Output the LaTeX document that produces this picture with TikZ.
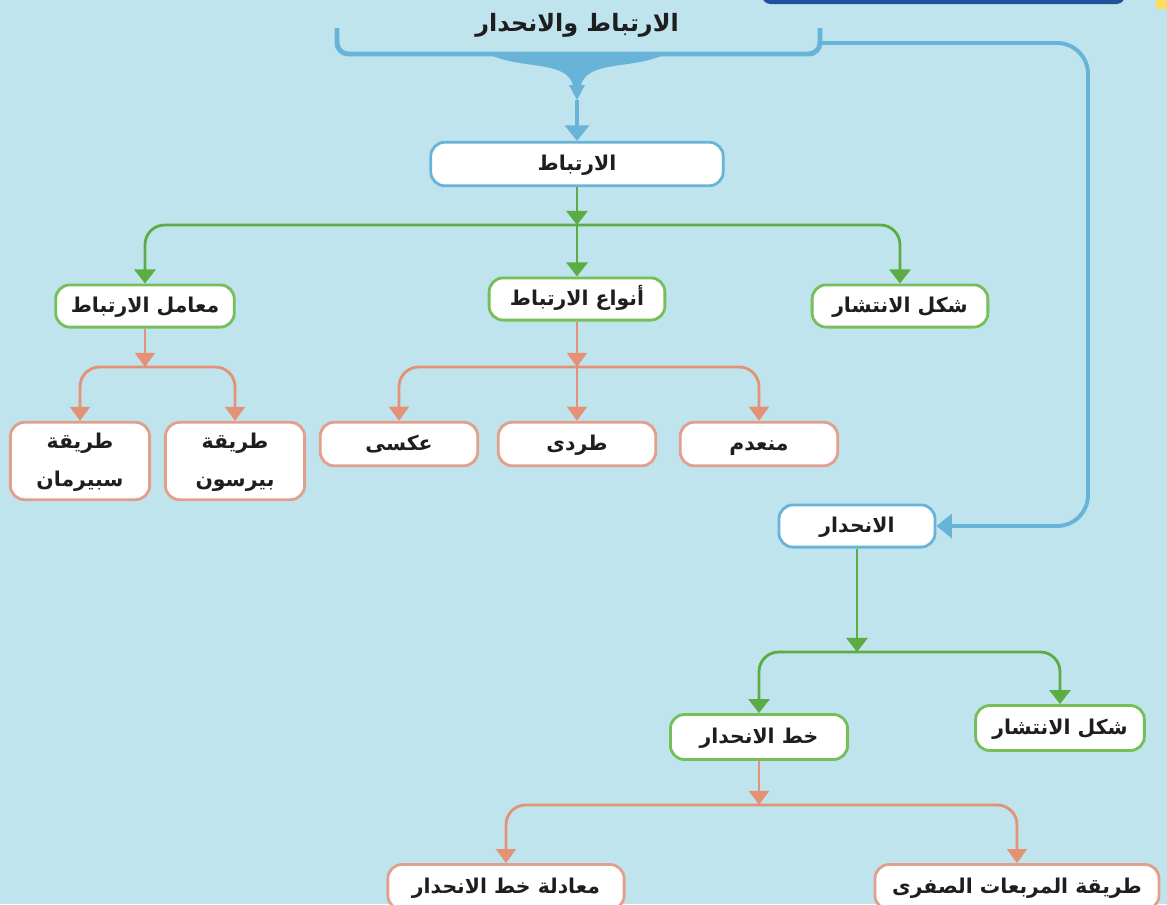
\documentclass[tikz,border=0pt]{standalone}
\usepackage{fontspec}
\usetikzlibrary{arrows.meta}
\newfontfamily\arfont[Script=Arabic]{DejaVu Sans}
\TeXXeTstate=1
\newcommand{\ar}[1]{\raisebox{-1.5pt}[9pt][3pt]{\beginR #1\endR}}
\definecolor{bgblue}{RGB}{191,228,238}
\definecolor{lineblue}{RGB}{104,179,216}
\definecolor{darkbar}{RGB}{28,84,156}
\definecolor{linegreen}{RGB}{92,172,68}
\definecolor{boxgreen}{RGB}{118,190,88}
\definecolor{linesalmon}{RGB}{228,146,118}
\definecolor{boxsalmon}{RGB}{226,160,140}
\definecolor{txt}{RGB}{30,30,30}
\tikzset{
  box/.style={draw, fill=white, rounded corners=10pt, line width=2pt, text=txt,
    font=\arfont\bfseries\fontsize{14.5}{27}\selectfont, align=center, inner sep=0pt},
  bbox/.style={box, draw=lineblue},
  gbox/.style={box, draw=boxgreen},
  sbox/.style={box, draw=boxsalmon},
  gline/.style={draw=linegreen, line width=2pt, rounded corners=14pt, -{Triangle[width=15pt,length=10pt]}},
  sline/.style={draw=linesalmon, line width=2pt, rounded corners=14pt, -{Triangle[width=14pt,length=10pt]}},
  bline/.style={draw=lineblue, line width=2.8pt, rounded corners=22pt, -{Triangle[width=17pt,length=11pt]}}
}
\begin{document}
\begin{tikzpicture}[x=0.025cm, y=-0.025cm]
		\clip (0,0) rectangle (1167,904);
		\fill[bgblue] (0,0) rectangle (1167,904);
		\fill[darkbar, rounded corners=6pt] (762,-30) rectangle (1125,4);
		\fill[yellow!60!orange!60] (1156,0) rectangle (1167,9);
		
		\node (title) at (577,25) [text=txt, font=\arfont\bfseries\fontsize{17}{20}\selectfont] {\ar{الارتباط والانحدار}};
		\draw[lineblue, line width=3.5pt, rounded corners=8pt] (337,28)--(337,54)--(820,54)--(820,28);
		\fill[lineblue] (488,54) .. controls (522,70) and (566,60) .. (573,85) -- (581,85) .. controls (588,60) and (632,70) .. (666,54) -- cycle;
		\fill[lineblue] (569,85)--(585,85)--(577,100)--cycle;
		
		\node (irt) at (577,164) [bbox, minimum width=208pt, minimum height=31pt] {\ar{الارتباط}};
		\node (mam) at (145,306) [gbox, minimum width=127pt, minimum height=30pt] {\ar{معامل الارتباط}};
		\node (anw) at (577,299) [gbox, minimum width=125pt, minimum height=30pt] {\ar{أنواع الارتباط}};
		\node (shk) at (900,306) [gbox, minimum width=125pt, minimum height=30pt] {\ar{شكل الانتشار}};
		\node (spr) at (80,461) [sbox, minimum width=99pt, minimum height=55pt] {\ar{طريقة}\\\ar{سبيرمان}};
		\node (prs) at (235,461) [sbox, minimum width=99pt, minimum height=55pt] {\ar{طريقة}\\\ar{بيرسون}};
		\node (aks) at (399,444) [sbox, minimum width=112pt, minimum height=31pt] {\ar{عكسى}};
		\node (trd) at (577,444) [sbox, minimum width=112pt, minimum height=31pt] {\ar{طردى}};
		\node (mnd) at (759,444) [sbox, minimum width=112pt, minimum height=31pt] {\ar{منعدم}};
		\node (inh) at (857,526) [bbox, minimum width=111pt, minimum height=30pt] {\ar{الانحدار}};
		\node (khat) at (759,737) [gbox, minimum width=126pt, minimum height=32pt] {\ar{خط الانحدار}};
		\node (shk2) at (1060,728) [gbox, minimum width=120pt, minimum height=32pt] {\ar{شكل الانتشار}};
		\node (mua) at (506,887) [sbox, minimum width=168pt, minimum height=32pt] {\ar{معادلة خط الانحدار}};
		\node (trq) at (1017,887) [sbox, minimum width=202pt, minimum height=32pt] {\ar{طريقة المربعات الصفرى}};
		
		\coordinate (brC) at (577,100);
		\coordinate (brR) at (820,43);
		\coordinate (rail) at (1088,43);
		\coordinate (jA) at (577,225);
		\coordinate (jB) at (145,367);
		\coordinate (jC) at (577,367);
		\coordinate (jD) at (857,652);
		\coordinate (jE) at (759,805);
		
		\draw[bline] (brC)--(irt);
		\draw[bline] (brR)--(rail) |- (inh);
		
		\draw[gline] (irt)--(jA);
		\draw[gline] (jA) -| (mam);
		\draw[gline] (jA)--(anw);
		\draw[gline] (jA) -| (shk);
		
		\draw[sline] (mam)--(jB);
		\draw[sline] (jB) -| (spr);
		\draw[sline] (jB) -| (prs);
		
		\draw[sline] (anw)--(jC);
		\draw[sline] (jC) -| (aks);
		\draw[sline] (jC)--(trd);
		\draw[sline] (jC) -| (mnd);
		
		\draw[gline] (inh)--(jD);
		\draw[gline] (jD) -| (khat);
		\draw[gline] (jD) -| (shk2);
		
		\draw[sline] (khat)--(jE);
		\draw[sline] (jE) -| (mua);
		\draw[sline] (jE) -| (trq);
	\end{tikzpicture}
\end{document}
